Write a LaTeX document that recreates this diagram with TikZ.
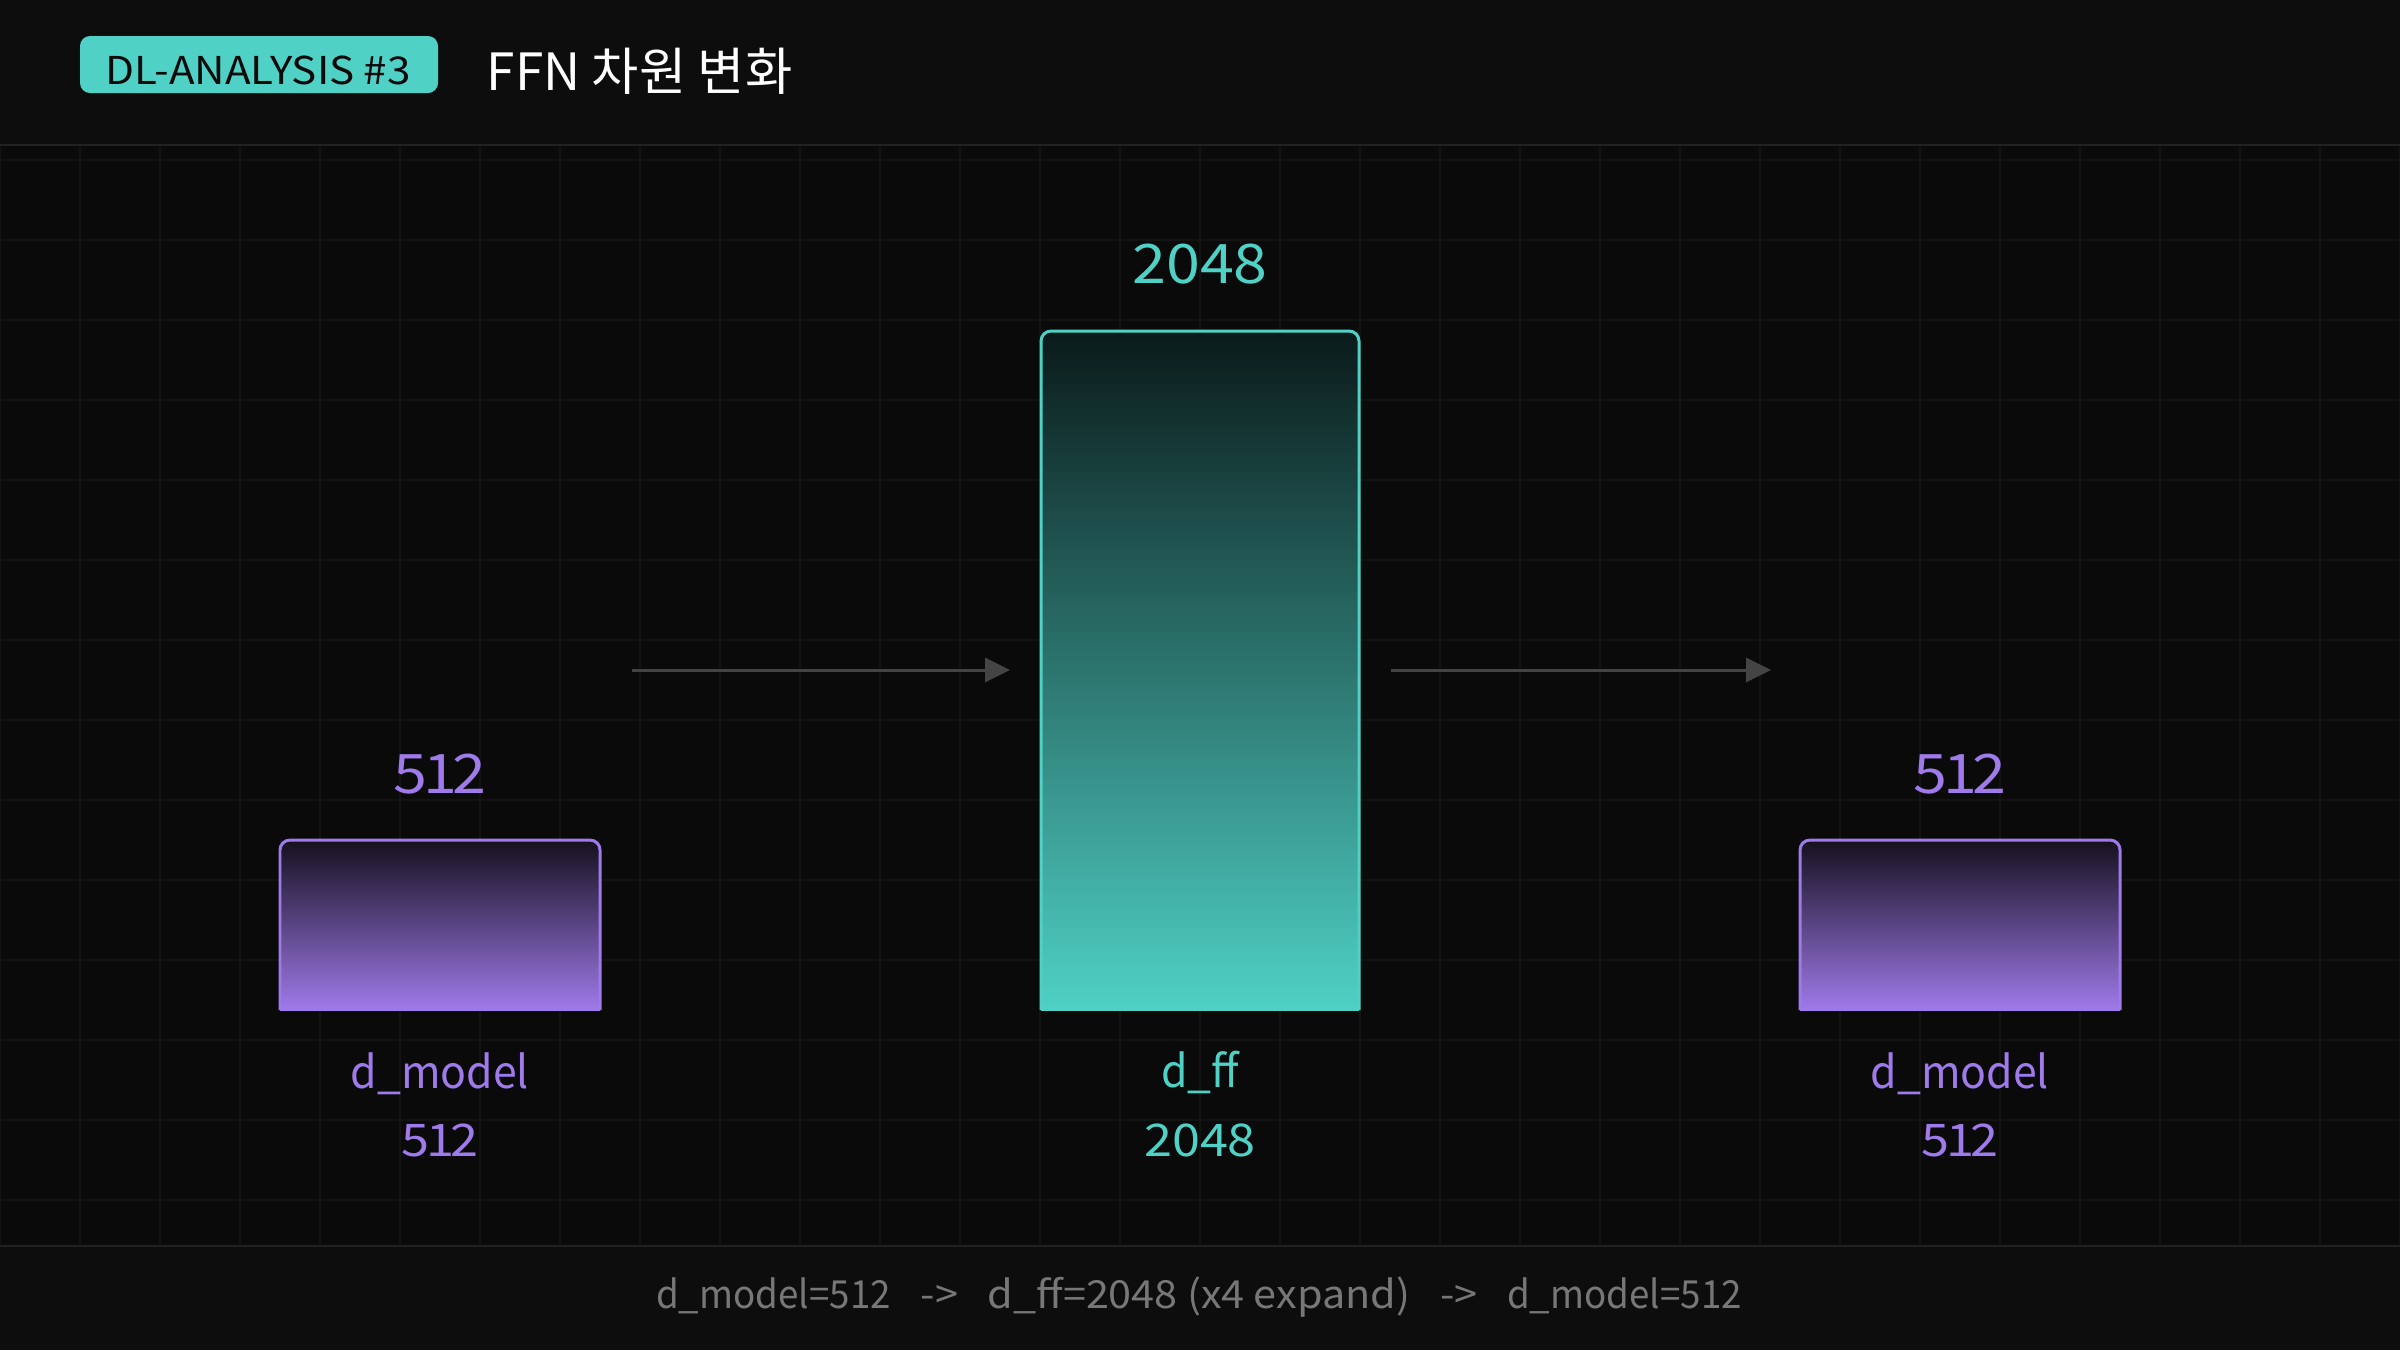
\documentclass[tikz,border=0pt]{standalone}
\usepackage{fontspec}
\setmainfont{Noto Sans CJK KR}[FakeStretch=0.95]
\newfontfamily\titlefont{Noto Sans CJK KR}
\newfontfamily\badgefont{Noto Sans CJK KR}[FakeStretch=1.1]
\newfontfamily\numfont{Noto Sans CJK KR}[FakeStretch=1.12]
\newfontfamily\widefont{Noto Sans CJK KR}[FakeStretch=1.07]
\usetikzlibrary{arrows.meta}
\definecolor{bgc}{HTML}{0A0A0A}
\definecolor{hdrc}{HTML}{0D0D0D}
\definecolor{linec}{HTML}{222222}
\definecolor{gridc}{HTML}{131313}
\definecolor{teal}{HTML}{4FD1C5}
\definecolor{tealdark}{HTML}{0A1A1A}
\definecolor{purp}{HTML}{9F7AEA}
\definecolor{purpdark}{HTML}{15101E}
\definecolor{arrowc}{HTML}{444444}
\definecolor{footc}{HTML}{777777}
\tikzset{
  toplabel/.style={font=\numfont\fontsize{15.5}{18}\selectfont, anchor=base, inner sep=0pt},
  botname/.style={font=\fontsize{12.8}{15}\selectfont, anchor=base, inner sep=0pt},
  botnum/.style={font=\numfont\fontsize{12.8}{15}\selectfont, anchor=base, inner sep=0pt},
  flowarrow/.style={draw=arrowc, line width=0.85pt, -{Triangle[length=0.25cm,width=0.24cm]}},
  barborder/.style={line width=0.85pt, rounded corners=0.1cm},
}
\newcommand{\fgap}{\hspace{0.77em}}
\newcommand{\narrowone}{5\kern-0.08em 1\kern-0.08em 2}
\begin{document}
\begin{tikzpicture}
\useasboundingbox (0,0) rectangle (24,-13.5);
\fill[bgc] (0,0) rectangle (24,-13.5);
% grid
\begin{scope}
\clip (0,-1.46) rectangle (24,-12.45);
\foreach \x in {0,0.8,...,24.01} \draw[gridc, line width=0.4pt] (\x,-1.46) -- (\x,-12.45);
\foreach \y in {1.6,2.4,...,12.41} \draw[gridc, line width=0.4pt] (0,-\y) -- (24,-\y);
\end{scope}
% header and footer
\fill[hdrc] (0,0) rectangle (24,-1.44);
\draw[linec, line width=0.6pt] (0,-1.45) -- (24,-1.45);
\fill[hdrc] (0,-12.46) rectangle (24,-13.5);
\draw[linec, line width=0.6pt] (0,-12.46) -- (24,-12.46);
% badge and title
\node[fill=teal, rounded corners=0.1cm, minimum width=3.58cm, minimum height=0.57cm, inner sep=0pt] (badge) at (2.59,-0.645) {};
\node[anchor=base, inner sep=0pt, font=\badgefont\fontsize{10.9}{13}\selectfont, text=bgc] (badgetext) at (2.58,-0.84) {DL-ANALYSIS \#3};
\node[anchor=base west, text=white, font=\titlefont\fontsize{14.6}{17}\selectfont, inner sep=0pt] (title) at (4.86,-0.90) {FFN 차원 변화};
% bars
\shade[top color=purpdark, bottom color=purp] (2.80,-10.10) -- (2.80,-8.40) -- (6.00,-8.40) -- (6.00,-10.10) -- cycle;
\draw[purp, barborder] (2.80,-10.10) -- (2.80,-8.40) -- (6.00,-8.40) -- (6.00,-10.10);
\shade[top color=tealdark, bottom color=teal] (10.41,-10.10) -- (10.41,-3.31) -- (13.59,-3.31) -- (13.59,-10.10) -- cycle;
\draw[teal, barborder] (10.41,-10.10) -- (10.41,-3.31) -- (13.59,-3.31) -- (13.59,-10.10);
\shade[top color=purpdark, bottom color=purp] (18.00,-10.10) -- (18.00,-8.40) -- (21.20,-8.40) -- (21.20,-10.10) -- cycle;
\draw[purp, barborder] (18.00,-10.10) -- (18.00,-8.40) -- (21.20,-8.40) -- (21.20,-10.10);
\node[inner sep=0pt, minimum width=3.2cm, minimum height=1.7cm] (inbar) at (4.40,-9.25) {};
\node[inner sep=0pt, minimum width=3.18cm, minimum height=6.79cm] (ffbar) at (12.00,-6.705) {};
\node[inner sep=0pt, minimum width=3.2cm, minimum height=1.7cm] (outbar) at (19.60,-9.25) {};
% labels
\node[toplabel, text=purp] (inval) at (4.40,-7.93) {\narrowone};
\node[toplabel, text=teal] (ffval) at (12.00,-2.83) {2048};
\node[toplabel, text=purp] (outval) at (19.60,-7.93) {\narrowone};
\node[botname, text=purp] (inname) at (4.40,-10.88) {d\_model};
\node[botnum, text=purp] (innum) at (4.40,-11.56) {\narrowone};
\node[botname, text=teal] (ffname) at (12.00,-10.87) {d\_ff};
\node[botnum, text=teal] (ffnum) at (12.00,-11.56) {2048};
\node[botname, text=purp] (outname) at (19.60,-10.88) {d\_model};
\node[botnum, text=purp] (outnum) at (19.60,-11.56) {\narrowone};
% arrows
\coordinate (a1s) at (6.32,-6.70);
\coordinate (a1e) at (10.10,-6.70);
\coordinate (a2s) at (13.91,-6.70);
\coordinate (a2e) at (17.71,-6.70);
\draw[flowarrow] (a1s) -- (a1e);
\draw[flowarrow] (a2s) -- (a2e);
% footer
\node[text=footc, font=\fontsize{11}{13}\selectfont, anchor=base, inner sep=0pt] (foot) at (11.99,-13.08)
  {d\_model=512\fgap{\widefont->}\fgap{\widefont d\_ff=2048 (x4 expand)}\fgap{\widefont->}\fgap d\_model=512};
\end{tikzpicture}
\end{document}
